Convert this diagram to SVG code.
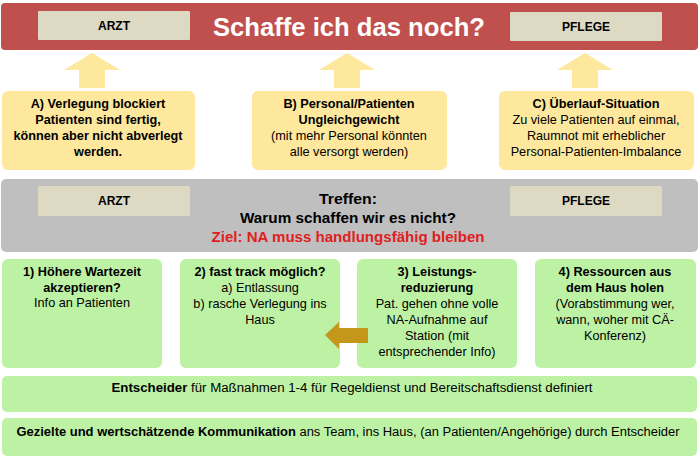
<svg xmlns="http://www.w3.org/2000/svg" width="700" height="459" viewBox="0 0 700 459">
<style>
text{font-family:"Liberation Sans",Arial,sans-serif;text-anchor:middle;fill:#000}
.b{font-weight:bold}
.t{font-size:12.7px}
.lab{font-size:12.5px;font-weight:bold}
.yel{fill:#FDE89D}
.grn{fill:#BDF2A4}
.tag{fill:#DDD9C3}
.up{fill:#FDE89D}
</style>
<rect width="700" height="459" fill="#fff"/>
<g id="header">
<rect x="1" y="3" width="697" height="47" rx="4" fill="#C0504D"/>
<rect class="tag" x="38" y="11" width="152" height="29" rx="1"/>
<text class="lab" x="114" y="30" textLength="32" lengthAdjust="spacingAndGlyphs">ARZT</text>
<rect class="tag" x="510" y="12" width="152" height="29" rx="1"/>
<text class="lab" x="586" y="31" textLength="48" lengthAdjust="spacingAndGlyphs">PFLEGE</text>
<text class="b" x="349" y="36" style="font-size:26px;fill:#fff" textLength="272" lengthAdjust="spacingAndGlyphs">Schaffe ich das noch?</text>
</g>
<g id="boxA">
<rect class="yel" x="2" y="91" width="193" height="79" rx="6"/>
<text class="t b" x="98" y="108">A) Verlegung blockiert</text>
<text class="t b" x="98" y="124">Patienten sind fertig,</text>
<text class="t b" x="98" y="140">können aber nicht abverlegt</text>
<text class="t b" x="98" y="156">werden.</text>
</g>
<g id="boxB">
<rect class="yel" x="252" y="91" width="195" height="79" rx="6"/>
<text class="t b" x="349" y="108">B) Personal/Patienten</text>
<text class="t b" x="349" y="124">Ungleichgewicht</text>
<text class="t" x="349" y="140">(mit mehr Personal könnten</text>
<text class="t" x="349" y="156">alle versorgt werden)</text>
</g>
<g id="boxC">
<rect class="yel" x="499" y="91" width="195" height="79" rx="6"/>
<text class="t b" x="596" y="108">C) Überlauf-Situation</text>
<text class="t" x="596" y="124">Zu viele Patienten auf einmal,</text>
<text class="t" x="596" y="140">Raumnot mit erheblicher</text>
<text class="t" x="596" y="156">Personal-Patienten-Imbalance</text>
</g>
<g id="meeting">
<rect x="1" y="179" width="697" height="73" rx="5" fill="#BFBFBF"/>
<rect class="tag" x="38" y="186" width="152" height="30" rx="1"/>
<text class="lab" x="114" y="205" textLength="32" lengthAdjust="spacingAndGlyphs">ARZT</text>
<rect class="tag" x="510" y="186" width="152" height="30" rx="1"/>
<text class="lab" x="586" y="205" textLength="48" lengthAdjust="spacingAndGlyphs">PFLEGE</text>
<text class="b" x="348" y="204" style="font-size:14px" textLength="58" lengthAdjust="spacingAndGlyphs">Treffen:</text>
<text class="b" x="348" y="223" style="font-size:14.5px" textLength="216" lengthAdjust="spacingAndGlyphs">Warum  schaffen wir es nicht?</text>
<text class="b" x="348" y="242" style="font-size:14.5px;fill:#E0201E" textLength="273" lengthAdjust="spacingAndGlyphs">Ziel: NA muss handlungsfähig bleiben</text>
</g>
<g id="step1">
<rect class="grn" x="2" y="259" width="160" height="109" rx="6"/>
<text class="t b" x="82" y="276">1) Höhere Wartezeit</text>
<text class="t b" x="82" y="292">akzeptieren?</text>
<text class="t" x="82" y="307">Info an Patienten</text>
</g>
<g id="step2">
<rect class="grn" x="180" y="259" width="160" height="109" rx="6"/>
<text class="t b" x="260" y="276">2) fast track möglich?</text>
<text class="t" x="260" y="292">a) Entlassung</text>
<text class="t" x="260" y="308">b) rasche Verlegung ins</text>
<text class="t" x="260" y="324">Haus</text>
</g>
<g id="step3">
<rect class="grn" x="357" y="259" width="160" height="109" rx="6"/>
<text class="t b" x="437" y="276">3) Leistungs-</text>
<text class="t b" x="437" y="292">reduzierung</text>
<text class="t" x="437" y="308">Pat. gehen ohne volle</text>
<text class="t" x="437" y="324">NA-Aufnahme  auf</text>
<text class="t" x="437" y="340">Station (mit</text>
<text class="t" x="437" y="356">entsprechender Info)</text>
</g>
<g id="step4">
<rect class="grn" x="535" y="259" width="161" height="109" rx="6"/>
<text class="t b" x="615" y="276">4) Ressourcen aus</text>
<text class="t b" x="615" y="292">dem Haus holen</text>
<text class="t" x="615" y="308">(Vorabstimmung wer,</text>
<text class="t" x="615" y="324">wann, woher mit CÄ-</text>
<text class="t" x="615" y="340">Konferenz)</text>
</g>
<g id="decider">
<rect class="grn" x="2" y="376" width="695" height="36" rx="5"/>
<text x="352" y="392" style="font-size:12.3px" textLength="481" lengthAdjust="spacingAndGlyphs"><tspan class="b">Entscheider</tspan> für Maßnahmen  1-4 für Regeldienst und  Bereitschaftsdienst definiert</text>
</g>
<g id="communication">
<rect class="grn" x="2" y="418" width="695" height="38" rx="5"/>
<text x="348" y="436" style="font-size:12.3px" textLength="663" lengthAdjust="spacingAndGlyphs"><tspan class="b">Gezielte und wertschätzende Kommunikation</tspan>  ans Team, ins Haus, (an Patienten/Angehörige) durch Entscheider</text>
</g>
<g id="connectors">
<polygon class="up" points="92,53 120,70 105,70 105,88 79,88 79,70 64,70"/>
<polygon class="up" points="347,53 375,70 360,70 360,88 334,88 334,70 319,70"/>
<polygon class="up" points="585,53 613,70 598,70 598,88 572,88 572,70 557,70"/>
<polygon points="325,335 339,322 339,328 368,328 368,343 339,343 339,349" fill="#C4961A"/>
</g>
</svg>
